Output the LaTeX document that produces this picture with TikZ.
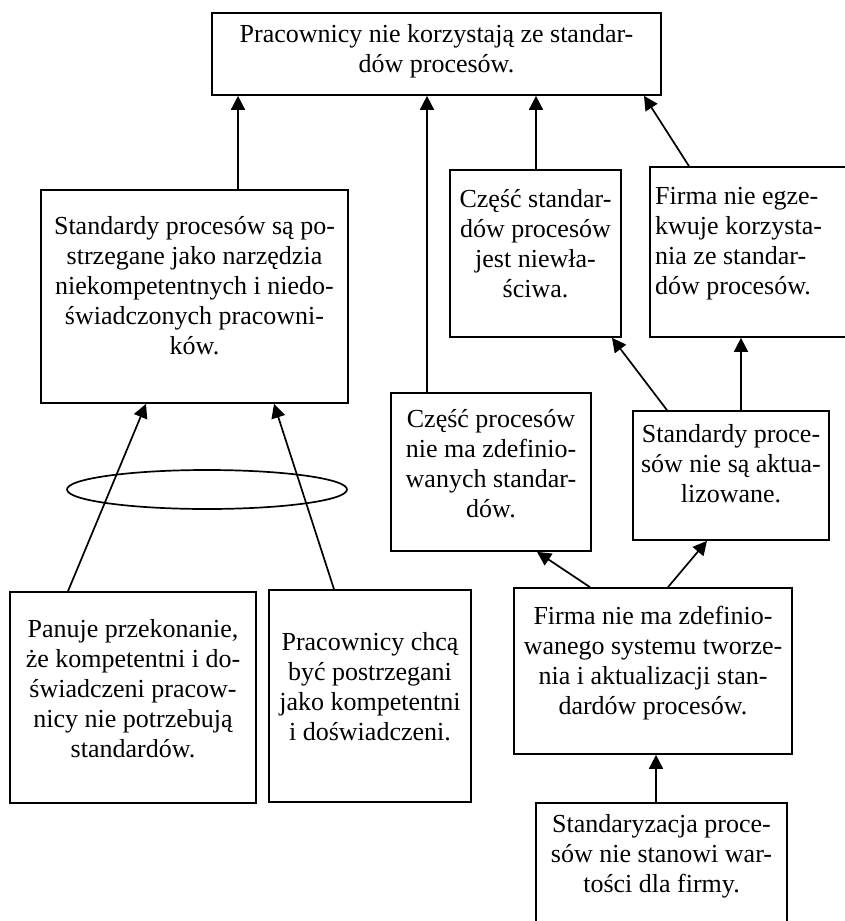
\documentclass[tikz,border=0pt]{standalone}
\usepackage{fontspec}
\setmainfont{Liberation Serif}
\usetikzlibrary{arrows.meta,shapes.geometric}
\begin{document}
\begin{tikzpicture}[x=1pt,y=-1pt,
  box/.style={draw, line width=1.7pt, inner sep=0pt, rectangle},
  txt/.style={inner sep=0pt, anchor=north, align=center, font=\fontsize{26}{30}\selectfont},
  arr/.style={line width=1.7pt, -{Triangle[length=14pt,width=14pt]}}]
\useasboundingbox (0,0) rectangle (845,921);
\clip (0,0) rectangle (845,921);
% boxes
\node[box, minimum width=449pt, minimum height=82pt]  (T)  at (436.5,54)  {};
\node[box, minimum width=307pt, minimum height=213pt] (S)  at (194.5,296.5) {};
\node[box, minimum width=171pt, minimum height=167pt] (C1) at (535.5,253.5) {};
\node[box, minimum width=250pt, minimum height=170pt] (F1) at (775,252) {};
\node[box, minimum width=200pt, minimum height=158pt] (CP) at (491,472) {};
\node[box, minimum width=196pt, minimum height=129pt] (SA) at (731,475.5) {};
\node[box, minimum width=278pt, minimum height=166pt] (FM) at (653,671) {};
\node[box, minimum width=251pt, minimum height=177pt] (SZ) at (661.5,891.5) {};
\node[box, minimum width=246pt, minimum height=211pt] (P)  at (133,697.5) {};
\node[box, minimum width=202pt, minimum height=212pt] (PC) at (370,696) {};
\node[draw, ellipse, line width=1.7pt, inner sep=0pt, minimum width=280pt, minimum height=39pt] (E) at (207,489.5) {};
% texts
\node[txt] (tT)  at (436.5,21) {\strut Pracownicy nie korzystają ze standar-\\dów procesów.};
\node[txt] (tS)  at (194.5,213) {\strut Standardy procesów są po-\\strzegane jako narzędzia\\niekompetentnych i niedo-\\świadczonych pracowni-\\ków.};
\node[txt] (tC1) at (535.5,186) {\strut Część standar-\\dów procesów\\jest niewła-\\ściwa.};
\node[txt, anchor=north west, align=left] (tF1) at (655,183) {\strut Firma nie egze-\\kwuje korzysta-\\nia ze standar-\\dów procesów.};
\node[txt] (tCP) at (491,406) {\strut Część procesów\\nie ma zdefinio-\\wanych standar-\\dów.};
\node[txt] (tSA) at (731,421) {\strut Standardy proce-\\sów nie są aktua-\\lizowane.};
\node[txt] (tFM) at (653,603) {\strut Firma nie ma zdefinio-\\wanego systemu tworze-\\nia i aktualizacji stan-\\dardów procesów.};
\node[txt] (tSZ) at (661.5,811) {\strut Standaryzacja proce-\\sów nie stanowi war-\\tości dla firmy.};
\node[txt] (tP)  at (133,616) {\strut Panuje przekonanie,\\że kompetentni i do-\\świadczeni pracow-\\nicy nie potrzebują\\standardów.};
\node[txt] (tPC) at (370,629) {\strut Pracownicy chcą\\być postrzegani\\jako kompetentni\\i doświadczeni.};
% connectors
\draw[arr] ([xshift=43.5pt]S.north) -- ([xshift=-198.5pt]T.south);
\draw[arr] ([xshift=-64pt]CP.north) -- ([xshift=-9.5pt]T.south);
\draw[arr] ([xshift=0.5pt]C1.north) -- ([xshift=99.5pt]T.south);
\draw[arr] ([xshift=-86pt]F1.north) -- ([xshift=207.5pt]T.south);
\draw[arr] ([xshift=-64pt]SA.north) -- ([xshift=76.5pt]C1.south);
\draw[arr] ([xshift=10pt]SA.north) -- ([xshift=-34pt]F1.south);
\draw[arr] ([xshift=-63pt]FM.north) -- ([xshift=46pt]CP.south);
\draw[arr] ([xshift=15pt]FM.north) -- ([xshift=-24pt]SA.south);
\draw[arr] ([xshift=-5.5pt]SZ.north) -- ([xshift=3pt]FM.south);
\draw[arr] ([xshift=-65pt]P.north) -- ([xshift=-48.5pt]S.south);
\draw[arr] ([xshift=-36pt]PC.north) -- ([xshift=79.5pt]S.south);
\end{tikzpicture}
\end{document}
